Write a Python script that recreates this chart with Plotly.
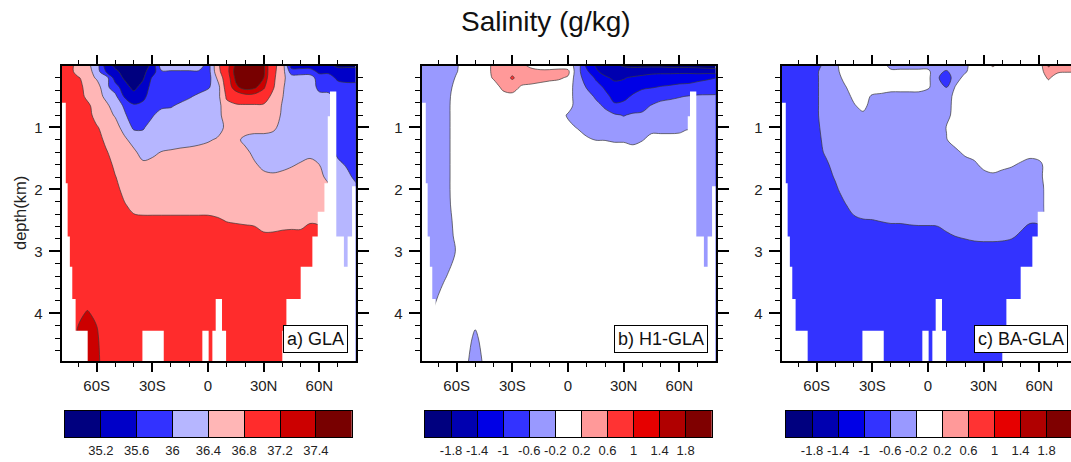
import plotly.graph_objects as go

# ---------------- data ----------------
lat = [-80, -75, -70, -65, -60, -55, -50, -45, -40, -35, -30, -25, -20, -15, -10, -5,
       0, 5, 10, 15, 20, 25, 30, 35, 40, 45, 50, 55, 60, 65, 70, 75, 80]
depth = [0.0, 0.1, 0.2, 0.35, 0.5, 0.65, 0.8, 1.0, 1.2, 1.4, 1.6, 1.8, 2.0, 2.25,
         2.5, 2.75, 3.0, 3.5, 4.0, 4.4, 4.8]

# a) GLA salinity (g/kg), rows = depth, cols = lat
sal_gla = [
    [37.0, 37.0, 36.6, 36.5, 36.2, 35.4, 35.1, 35.0, 35.0, 35.0, 35.3, 36.25, 36.25, 36.25, 36.25, 36.25, 35.8, 36.7, 37.1, 37.45, 37.7, 37.7, 37.45, 36.9, 36.65, 35.4, 35.4, 35.4, 35.4, 35.3, 35.1, 35.1, 35.1],
    [37.0, 37.0, 36.6, 36.6, 36.2, 35.6, 35.3, 35.05, 35.0, 35.1, 35.4, 35.95, 35.95, 35.95, 35.95, 35.95, 35.8, 36.65, 37.1, 37.5, 37.7, 37.7, 37.45, 36.9, 36.6, 35.8, 35.8, 35.8, 35.5, 35.5, 35.4, 35.4, 35.4],
    [37.0, 37.0, 36.85, 36.6, 36.35, 36.2, 35.4, 35.15, 35.0, 35.15, 35.65, 35.8, 35.8, 35.8, 35.8, 35.8, 35.8, 36.45, 37.05, 37.45, 37.7, 37.65, 37.4, 36.9, 36.5, 36.2, 36.2, 36.2, 35.8, 35.8, 35.5, 35.5, 35.5],
    [37.0, 37.0, 37.0, 36.6, 36.6, 36.1, 35.8, 35.35, 35.1, 35.35, 35.75, 35.7, 35.8, 35.8, 35.8, 35.8, 35.95, 36.2, 37.0, 37.35, 37.5, 37.45, 37.25, 36.85, 36.45, 36.2, 36.2, 36.2, 35.9, 35.85, 35.8, 35.7, 35.7],
    [37.0, 37.0, 37.0, 36.7, 36.6, 36.3, 36.1, 35.55, 35.35, 35.5, 35.8, 35.8, 35.8, 35.8, 35.95, 36.1, 36.2, 36.25, 36.85, 37.0, 37.1, 37.1, 37.0, 36.7, 36.42, 36.2, 36.2, 36.2, 36.1, 36.1, 35.8, 35.8, 35.8],
    [37.0, 37.0, 37.0, 36.9, 36.6, 36.5, 36.2, 35.95, 35.65, 35.7, 35.8, 35.9, 35.95, 36.1, 36.2, 36.2, 36.2, 36.2, 36.7, 36.75, 36.75, 36.75, 36.75, 36.6, 36.38, 36.2, 36.2, 36.2, 36.2, 36.2, 35.8, 35.8, 35.8],
    [37.0, 37.0, 37.0, 37.0, 36.6, 36.6, 36.35, 36.05, 35.8, 35.8, 35.95, 36.2, 36.2, 36.2, 36.2, 36.2, 36.2, 36.25, 36.6, 36.6, 36.6, 36.6, 36.6, 36.6, 36.35, 36.2, 36.2, 36.2, 36.2, 36.2, 35.8, 35.8, 35.8],
    [37.0, 37.0, 37.0, 37.0, 36.85, 36.6, 36.6, 36.2, 35.95, 35.95, 36.2, 36.2, 36.2, 36.2, 36.2, 36.2, 36.2, 36.2, 36.5, 36.6, 36.6, 36.6, 36.6, 36.5, 36.25, 36.2, 36.2, 36.2, 36.2, 36.2, 35.8, 35.8, 35.8],
    [37.0, 37.0, 37.0, 37.0, 37.0, 36.7, 36.6, 36.5, 36.2, 36.2, 36.2, 36.2, 36.2, 36.2, 36.2, 36.25, 36.35, 36.45, 36.55, 36.5, 36.3, 36.2, 36.2, 36.2, 36.2, 36.2, 36.2, 36.2, 36.2, 36.2, 35.8, 35.8, 35.8],
    [37.0, 37.0, 37.0, 37.0, 37.0, 36.85, 36.6, 36.6, 36.5, 36.2, 36.25, 36.42, 36.45, 36.5, 36.55, 36.6, 36.6, 36.6, 36.6, 36.6, 36.5, 36.3, 36.2, 36.2, 36.2, 36.2, 36.2, 36.2, 36.2, 36.2, 35.9, 35.8, 35.8],
    [37.0, 37.0, 37.0, 37.0, 37.0, 37.0, 36.7, 36.6, 36.6, 36.5, 36.6, 36.6, 36.6, 36.6, 36.6, 36.6, 36.6, 36.6, 36.6, 36.6, 36.6, 36.45, 36.3, 36.3, 36.3, 36.35, 36.45, 36.6, 36.4, 36.2, 36.1, 35.95, 35.8],
    [37.0, 37.0, 37.0, 37.0, 37.0, 37.0, 36.82, 36.6, 36.6, 36.6, 36.6, 36.6, 36.6, 36.6, 36.6, 36.6, 36.6, 36.6, 36.6, 36.6, 36.6, 36.6, 36.5, 36.45, 36.5, 36.6, 36.6, 36.6, 36.6, 36.2, 36.2, 36.1, 35.9],
    [37.0, 37.0, 37.0, 37.0, 37.0, 37.0, 37.0, 36.6, 36.6, 36.6, 36.6, 36.6, 36.6, 36.6, 36.6, 36.6, 36.6, 36.6, 36.6, 36.6, 36.6, 36.6, 36.6, 36.6, 36.6, 36.6, 36.6, 36.6, 36.6, 36.6, 36.2, 36.2, 36.1],
    [37.0, 37.0, 37.0, 37.0, 37.0, 37.0, 37.0, 36.85, 36.6, 36.6, 36.6, 36.6, 36.6, 36.6, 36.6, 36.6, 36.6, 36.6, 36.6, 36.6, 36.6, 36.6, 36.6, 36.6, 36.6, 36.6, 36.6, 36.6, 36.6, 36.6, 36.2, 36.2, 36.2],
    [37.0, 37.0, 37.0, 37.0, 37.0, 37.0, 37.0, 37.0, 36.95, 36.9, 36.9, 36.9, 36.9, 36.9, 36.9, 36.9, 36.9, 36.85, 36.78, 36.75, 36.72, 36.68, 36.65, 36.65, 36.66, 36.66, 36.66, 36.75, 36.7, 36.6, 36.2, 36.2, 36.2],
    [37.0, 37.0, 37.0, 37.0, 37.0, 37.0, 37.0, 37.0, 37.0, 37.0, 37.0, 37.0, 37.0, 37.0, 37.0, 37.0, 37.0, 37.0, 37.0, 37.0, 37.0, 37.0, 36.85, 36.85, 36.88, 36.9, 36.9, 37.0, 37.0, 36.6, 36.2, 36.2, 36.2],
    [37.0, 37.0, 37.0, 37.0, 37.0, 37.0, 37.0, 37.0, 37.0, 37.0, 37.0, 37.0, 37.0, 37.0, 37.0, 37.0, 37.0, 37.0, 37.0, 37.0, 37.0, 37.0, 37.0, 37.0, 37.0, 37.0, 37.0, 37.0, 37.0, 36.6, 36.2, 36.2, 36.2],
    [37.0, 37.0, 37.0, 37.0, 37.0, 37.0, 37.0, 37.0, 37.0, 37.0, 37.0, 37.0, 37.0, 37.0, 37.0, 37.0, 37.0, 37.0, 37.0, 37.0, 37.0, 37.0, 37.0, 37.0, 37.0, 37.0, 37.0, 37.0, 37.0, 36.6, 36.2, 36.2, 36.2],
    [37.0, 37.0, 37.15, 37.22, 37.15, 37.0, 37.0, 37.0, 37.0, 37.0, 37.0, 37.0, 37.0, 37.0, 37.0, 37.0, 37.0, 37.0, 37.0, 37.0, 37.0, 37.0, 37.0, 37.0, 37.0, 37.0, 37.0, 37.0, 37.0, 36.6, 36.2, 36.2, 36.2],
    [37.0, 37.0, 37.25, 37.3, 37.25, 37.0, 37.0, 37.0, 37.0, 37.0, 37.0, 37.0, 37.0, 37.0, 37.0, 37.0, 37.0, 37.0, 37.0, 37.0, 37.0, 37.0, 37.0, 37.0, 37.0, 37.0, 37.0, 37.0, 37.0, 36.6, 36.2, 36.2, 36.2],
    [37.0, 37.0, 37.25, 37.3, 37.3, 37.0, 37.0, 37.0, 37.0, 37.0, 37.0, 37.0, 37.0, 37.0, 37.0, 37.0, 37.0, 37.0, 37.0, 37.0, 37.0, 37.0, 37.0, 37.0, 37.0, 37.0, 37.0, 37.0, 37.0, 36.6, 36.2, 36.2, 36.2],
]

# b) H1-GLA salinity difference
dsal_h1 = [
    [-0.4, -0.4, -0.4, -0.4, -0.24, 0, 0, 0, 0.3, 0.4, 0.4, 0.3, 0.1, 0, 0, 0, 0, -0.35, -1.1, -1.42, -1.65, -1.7, -1.85, -1.9, -1.9, -1.9, -1.9, -1.95, -1.95, -1.95, -1.95, -2.0, -2.0],
    [-0.4, -0.4, -0.4, -0.4, -0.22, 0, 0, 0, 0.3, 0.4, 0.5, 0.45, 0.35, 0.3, 0.3, 0.35, 0.3, -0.45, -0.9, -1.35, -1.5, -1.6, -1.6, -1.6, -1.55, -1.5, -1.5, -1.5, -1.5, -1.5, -1.55, -1.55, -1.6],
    [-0.4, -0.4, -0.4, -0.4, -0.15, 0, 0, 0, 0.25, 0.4, 0.65, 0.4, 0.4, 0.35, 0.3, 0.25, 0.15, -0.45, -0.75, -1.05, -1.35, -1.45, -1.42, -1.35, -1.3, -1.25, -1.2, -1.2, -1.15, -1.15, -1.1, -1.05, -1.0],
    [-0.4, -0.4, -0.4, -0.35, -0.05, 0, 0, 0, 0, 0.3, 0.35, 0.15, 0.1, 0.05, 0, 0, 0, -0.4, -0.62, -0.85, -1.05, -1.3, -1.3, -1.15, -1.05, -1.02, -0.98, -0.95, -0.92, -0.9, -0.85, -0.82, -0.8],
    [-0.4, -0.4, -0.4, -0.3, 0, 0, 0, 0, 0, 0.05, 0.1, 0, 0, 0, 0, 0, 0, -0.4, -0.45, -0.65, -0.9, -1.1, -1.1, -0.95, -0.85, -0.8, -0.7, -0.65, -0.62, -0.58, -0.55, -0.55, -0.55],
    [-0.4, -0.4, -0.4, -0.28, 0, 0, 0, 0, 0, 0, 0, 0, 0, 0, 0, 0, 0, -0.4, -0.4, -0.5, -0.65, -0.95, -0.9, -0.8, -0.7, -0.58, -0.5, -0.5, -0.45, -0.45, -0.4, -0.4, -0.4],
    [-0.4, -0.4, -0.4, -0.28, 0, 0, 0, 0, 0, 0, 0, 0, 0, 0, 0, 0, -0.25, -0.4, -0.4, -0.4, -0.5, -0.55, -0.62, -0.55, -0.55, -0.45, -0.4, -0.4, -0.4, -0.4, -0.4, -0.4, -0.4],
    [-0.4, -0.4, -0.4, -0.28, 0, 0, 0, 0, 0, 0, 0, 0, 0, 0, 0, 0, -0.1, -0.22, -0.4, -0.4, -0.4, -0.4, -0.4, -0.4, -0.4, -0.3, -0.3, -0.3, -0.3, -0.25, -0.4, -0.4, -0.4],
    [-0.4, -0.4, -0.4, -0.28, 0, 0, 0, 0, 0, 0, 0, 0, 0, 0, 0, 0, 0, 0, -0.12, -0.21, -0.21, -0.25, -0.25, -0.3, -0.22, -0.1, -0.1, -0.1, -0.08, 0, -0.4, -0.4, -0.4],
    [-0.4, -0.4, -0.4, -0.28, 0, 0, 0, 0, 0, 0, 0, 0, 0, 0, 0, 0, 0, 0, 0, 0, 0, 0, 0, -0.05, 0, 0, 0, 0, 0, 0, -0.4, -0.4, -0.4],
    [-0.4, -0.4, -0.4, -0.28, 0, 0, 0, 0, 0, 0, 0, 0, 0, 0, 0, 0, 0, 0, 0, 0, 0, 0, 0, 0, 0, 0, 0, 0, 0, 0, -0.4, -0.4, -0.4],
    [-0.4, -0.4, -0.4, -0.28, 0, 0, 0, 0, 0, 0, 0, 0, 0, 0, 0, 0, 0, 0, 0, 0, 0, 0, 0, 0, 0, 0, 0, 0, 0, 0, -0.4, -0.4, -0.4],
    [-0.4, -0.4, -0.4, -0.28, 0, 0, 0, 0, 0, 0, 0, 0, 0, 0, 0, 0, 0, 0, 0, 0, 0, 0, 0, 0, 0, 0, 0, 0, 0, 0, -0.4, -0.4, -0.4],
    [-0.4, -0.4, -0.4, -0.3, 0, 0, 0, 0, 0, 0, 0, 0, 0, 0, 0, 0, 0, 0, 0, 0, 0, 0, 0, 0, 0, 0, 0, 0, 0, 0, -0.4, -0.4, -0.4],
    [-0.4, -0.4, -0.4, -0.4, 0, 0, 0, 0, 0, 0, 0, 0, 0, 0, 0, 0, 0, 0, 0, 0, 0, 0, 0, 0, 0, 0, 0, 0, 0, 0, -0.4, -0.4, -0.4],
    [-0.4, -0.4, -0.4, -0.45, -0.05, 0, 0, 0, 0, 0, 0, 0, 0, 0, 0, 0, 0, 0, 0, 0, 0, 0, 0, 0, 0, 0, 0, 0, 0, 0, -0.4, -0.4, -0.4],
    [-0.4, -0.4, -0.4, -0.5, -0.15, 0, 0, 0, 0, 0, 0, 0, 0, 0, 0, 0, 0, 0, 0, 0, 0, 0, 0, 0, 0, 0, 0, 0, 0, 0, -0.4, -0.4, -0.4],
    [-0.4, -0.4, -0.35, -0.1, 0, 0, 0, 0, 0, 0, 0, 0, 0, 0, 0, 0, 0, 0, 0, 0, 0, 0, 0, 0, 0, 0, 0, 0, 0, 0, -0.4, -0.4, -0.4],
    [-0.4, -0.3, 0, 0, 0, 0, 0, 0, 0, 0, 0, 0, 0, 0, 0, 0, 0, 0, 0, 0, 0, 0, 0, 0, 0, 0, 0, 0, 0, 0, -0.4, -0.4, -0.4],
    [0, 0, 0, 0, 0, 0, -0.3, 0, 0, 0, 0, 0, 0, 0, 0, 0, 0, 0, 0, 0, 0, 0, 0, 0, 0, 0, 0, 0, 0, 0, -0.4, -0.4, -0.4],
    [0, 0, 0, 0, 0, -0.1, -0.5, -0.1, 0, 0, 0, 0, 0, 0, 0, 0, 0, 0, 0, 0, 0, 0, 0, 0, 0, 0, 0, 0, 0, 0, -0.4, -0.4, -0.4],
]

# c) BA-GLA salinity difference
dsal_ba = [
    [-0.8, -0.8, -0.8, -0.8, -0.8, -0.4, -0.3, 0, 0, 0, 0, 0, -0.35, -0.35, -0.35, -0.35, -0.35, -0.4, -0.4, -0.4, -0.3, 0, 0, 0.25, 0, 0, 0, 0, 0, 0.65, 0.35, 0.3, 0.3],
    [-0.8, -0.8, -0.8, -0.8, -0.65, -0.4, -0.35, 0, 0, 0, 0, 0, -0.1, -0.1, -0.1, -0.1, -0.1, -0.5, -0.65, -0.4, -0.25, 0, 0, 0, 0, 0, 0, 0, 0, 0.45, 0.25, 0.22, 0.22],
    [-0.8, -0.8, -0.8, -0.8, -0.65, -0.4, -0.4, -0.1, 0, 0, 0, 0, 0, 0, 0, 0, -0.1, -0.55, -0.8, -0.4, -0.05, 0, 0, 0, 0, 0, 0, 0, 0, 0.25, 0, 0, 0],
    [-0.8, -0.8, -0.8, -0.8, -0.65, -0.4, -0.4, -0.25, 0, 0, 0, 0, 0, 0, 0, 0, -0.15, -0.4, -0.62, -0.15, 0, 0, 0, 0, 0, 0, 0, 0, 0, 0, 0, 0, 0],
    [-0.8, -0.8, -0.8, -0.8, -0.65, -0.4, -0.4, -0.4, -0.1, -0.05, -0.25, -0.3, -0.4, -0.4, -0.4, -0.4, -0.4, -0.4, -0.4, -0.05, 0, 0, 0, 0, 0, 0, 0, 0, 0, 0, 0, 0, 0],
    [-0.8, -0.8, -0.8, -0.8, -0.65, -0.4, -0.4, -0.4, -0.25, -0.05, -0.4, -0.4, -0.4, -0.4, -0.4, -0.4, -0.4, -0.4, -0.4, 0, 0, 0, 0, 0, 0, 0, 0, 0, 0, 0, 0, 0, 0],
    [-0.8, -0.8, -0.8, -0.8, -0.65, -0.4, -0.4, -0.4, -0.4, -0.3, -0.4, -0.4, -0.4, -0.4, -0.4, -0.4, -0.4, -0.4, -0.35, 0, 0, 0, 0, 0, 0, 0, 0, 0, 0, 0, 0, 0, 0],
    [-0.8, -0.8, -0.8, -0.8, -0.7, -0.4, -0.4, -0.4, -0.4, -0.4, -0.4, -0.4, -0.4, -0.4, -0.4, -0.4, -0.4, -0.4, -0.18, 0, 0, 0, 0, 0, 0, 0, 0, 0, 0, 0, 0, 0, 0],
    [-0.8, -0.8, -0.8, -0.8, -0.8, -0.4, -0.4, -0.4, -0.4, -0.4, -0.4, -0.4, -0.4, -0.4, -0.4, -0.4, -0.4, -0.4, -0.22, 0, 0, 0, 0, 0, 0, 0, 0, 0, 0, 0, 0, 0, 0],
    [-0.8, -0.8, -0.8, -0.8, -0.8, -0.52, -0.4, -0.4, -0.4, -0.4, -0.4, -0.4, -0.4, -0.4, -0.4, -0.4, -0.4, -0.4, -0.4, -0.3, -0.1, 0, 0, 0, 0, 0, 0, 0, 0, 0, 0, 0, 0],
    [-0.8, -0.8, -0.8, -0.8, -0.8, -0.7, -0.4, -0.4, -0.4, -0.4, -0.4, -0.4, -0.4, -0.4, -0.4, -0.4, -0.4, -0.4, -0.4, -0.4, -0.4, -0.3, -0.05, 0, -0.05, -0.15, -0.25, -0.4, -0.3, 0, 0, 0, 0],
    [-0.8, -0.8, -0.8, -0.8, -0.8, -0.8, -0.55, -0.4, -0.4, -0.4, -0.4, -0.4, -0.4, -0.4, -0.4, -0.4, -0.4, -0.4, -0.4, -0.4, -0.4, -0.4, -0.4, -0.3, -0.4, -0.4, -0.4, -0.4, -0.3, 0, 0, 0, 0],
    [-0.8, -0.8, -0.8, -0.8, -0.8, -0.8, -0.7, -0.4, -0.4, -0.4, -0.4, -0.4, -0.4, -0.4, -0.4, -0.4, -0.4, -0.4, -0.4, -0.4, -0.4, -0.4, -0.4, -0.4, -0.4, -0.4, -0.4, -0.4, -0.4, 0, 0, 0, 0],
    [-0.8, -0.8, -0.8, -0.8, -0.8, -0.8, -0.8, -0.65, -0.4, -0.4, -0.4, -0.4, -0.4, -0.4, -0.4, -0.4, -0.4, -0.4, -0.4, -0.4, -0.4, -0.4, -0.4, -0.4, -0.4, -0.4, -0.4, -0.4, -0.4, 0, 0, 0, 0],
    [-0.8, -0.8, -0.8, -0.8, -0.8, -0.8, -0.8, -0.8, -0.7, -0.62, -0.61, -0.58, -0.55, -0.55, -0.52, -0.5, -0.5, -0.48, -0.46, -0.45, -0.42, -0.42, -0.42, -0.42, -0.42, -0.42, -0.48, -0.55, -0.52, 0, 0, 0, 0],
    [-0.8, -0.8, -0.8, -0.8, -0.8, -0.8, -0.8, -0.8, -0.8, -0.8, -0.8, -0.8, -0.8, -0.8, -0.8, -0.8, -0.8, -0.8, -0.65, -0.59, -0.55, -0.5, -0.48, -0.48, -0.5, -0.55, -0.65, -0.8, -0.8, -0.3, 0, 0, 0],
    [-0.8, -0.8, -0.8, -0.8, -0.8, -0.8, -0.8, -0.8, -0.8, -0.8, -0.8, -0.8, -0.8, -0.8, -0.8, -0.8, -0.8, -0.8, -0.8, -0.8, -0.8, -0.8, -0.8, -0.8, -0.8, -0.8, -0.8, -0.8, -0.8, -0.8, 0, 0, 0],
    [-0.8, -0.8, -0.8, -0.8, -0.8, -0.8, -0.8, -0.8, -0.8, -0.8, -0.8, -0.8, -0.8, -0.8, -0.8, -0.8, -0.8, -0.8, -0.8, -0.8, -0.8, -0.8, -0.8, -0.8, -0.8, -0.8, -0.8, -0.8, -0.8, -0.8, 0, 0, 0],
    [-0.8, -0.8, -0.8, -0.8, -0.8, -0.8, -0.8, -0.8, -0.8, -0.8, -0.8, -0.8, -0.8, -0.8, -0.8, -0.8, -0.8, -0.8, -0.8, -0.8, -0.8, -0.8, -0.8, -0.8, -0.8, -0.8, -0.8, -0.8, -0.8, -0.8, 0, 0, 0],
    [-0.8, -0.8, -0.8, -0.8, -0.8, -0.8, -0.8, -0.8, -0.8, -0.8, -0.8, -0.8, -0.8, -0.8, -0.8, -0.8, -0.8, -0.8, -0.8, -0.8, -0.8, -0.8, -0.8, -0.8, -0.8, -0.8, -0.8, -0.8, -0.8, -0.8, 0, 0, 0],
    [-0.8, -0.8, -0.8, -0.8, -0.8, -0.8, -0.8, -0.8, -0.8, -0.8, -0.8, -0.8, -0.8, -0.8, -0.8, -0.8, -0.8, -0.8, -0.8, -0.8, -0.8, -0.8, -0.8, -0.8, -0.8, -0.8, -0.8, -0.8, -0.8, -0.8, 0, 0, 0],
]

# sea floor (land mask): lat column edges and floor depth (km)
mask_west = [-80.0, -77.0, -76.0, -74.8, -73.5, -71.7, -35.0, -2.7, 2.7, 4.5, 7.2, 40.4, 42.6, 50.3, 56.6, 59.5, 63.1, 64.9, 66.1, 68.8, 72.9, 75.6, 78.0]
mask_east = [-77.0, -76.0, -74.8, -73.5, -71.7, -65.2, -24.2, 0.0, 4.5, 7.2, 9.4, 42.6, 50.3, 56.6, 59.5, 63.1, 64.9, 66.1, 68.8, 72.9, 75.6, 78.0, 80.0]
mask_floor = [0.6, 1.9, 2.76, 3.25, 3.77, 4.28, 4.28, 4.28, 4.28, 3.77, 4.28, 4.28, 3.77, 3.25, 2.76, 2.36, 1.9, 0.82, 0.42, 2.76, 3.25, 2.76, 1.95]

gla_ticklabels = ['35.2', '35.6', '36', '36.4', '36.8', '37.2', '37.4']
gla_colors = ['#00007F', '#0000C8', '#3232FF', '#B6B6FF', '#FFB6B6', '#FF2C2C', '#CC0000', '#780000']
diff_ticklabels = ['-1.8', '-1.4', '-1', '-0.6', '-0.2', '0.2', '0.6', '1', '1.4', '1.8']
diff_colors = ['#00007F', '#0000B0', '#0000E6', '#3333FF', '#9999FF', '#FFFFFF',
               '#FF9999', '#FF3333', '#E60000', '#B00000', '#7F0000']

lat_ticks = [-60, -30, 0, 30, 60]
lat_ticklabels = ['60S', '30S', '0', '30N', '60N']
lat_minor = [-70, -50, -40, -20, -10, 10, 20, 40, 50, 70]
depth_ticks = [1, 2, 3, 4]
depth_ticklabels = ['1', '2', '3', '4']
depth_minor = [0.2, 0.4, 0.6, 0.8, 1.2, 1.4, 1.6, 1.8, 2.2, 2.4, 2.6, 2.8, 3.2, 3.4, 3.6, 3.8, 4.2, 4.4, 4.6]
panel_labels = ['a) GLA', 'b) H1-GLA', 'c) BA-GLA']

# ---------------- figure ----------------
W, H = 1071, 462
FONT = 'Liberation Sans, Arial, Helvetica, sans-serif'
LINE = dict(color='#3a3a3a', width=0.7, smoothing=1)


def px_x(p):
    return p / W


def px_y(p):
    return 1 - p / H


def stepped(colors):
    n = len(colors) - 1
    out = []
    for i, c in enumerate(colors):
        out.append([max(0.0, (i - 0.5) / n), c])
        out.append([min(1.0, (i + 0.5) / n), c])
    return out


fig = go.Figure()

# panel a
fig.add_trace(go.Contour(
    x=lat, y=depth, z=sal_gla, xaxis='x', yaxis='y', autocontour=False,
    contours=dict(start=35.2, end=37.2, size=0.4, coloring='fill', showlines=True),
    colorscale=stepped(gla_colors[:7]), line=LINE, showscale=False, hoverinfo='skip'))
fig.add_trace(go.Contour(
    x=lat, y=depth, z=sal_gla, xaxis='x', yaxis='y', autocontour=False,
    contours=dict(start=37.4, end=37.4, size=0.2, coloring='fill', showlines=True),
    colorscale=[[0, 'rgba(255,255,255,0)'], [0.5, 'rgba(255,255,255,0)'],
                [0.5, gla_colors[7]], [1, gla_colors[7]]],
    line=LINE, showscale=False, hoverinfo='skip'))
# panels b, c
for z, ax in [(dsal_h1, '2'), (dsal_ba, '3')]:
    fig.add_trace(go.Contour(
        x=lat, y=depth, z=z, xaxis='x' + ax, yaxis='y' + ax, autocontour=False,
        contours=dict(start=-1.8, end=1.8, size=0.4, coloring='fill', showlines=True),
        colorscale=stepped(diff_colors), line=LINE, showscale=False, hoverinfo='skip'))

# land mask (slight overlap between neighbouring columns avoids anti-alias seams)
OVERLAP = 0.35
centers = [(w + e) / 2 for w, e in zip(mask_west, mask_east)]
widths = [e - w + 2 * OVERLAP for w, e in zip(mask_west, mask_east)]
heights = [5.0 - f for f in mask_floor]
for ax in ['', '2', '3']:
    fig.add_trace(go.Bar(x=centers, y=heights, base=mask_floor, width=widths,
                         marker=dict(color='white', line=dict(width=0)),
                         xaxis='x' + ax, yaxis='y' + ax, hoverinfo='skip', showlegend=False))

# colorbars as heatmaps
cb_specs = [(gla_colors, '4'), (diff_colors, '5'), (diff_colors, '6')]
for cols, ax in cb_specs:
    n = len(cols)
    fig.add_trace(go.Heatmap(z=[list(range(n))], x=[i + 0.5 for i in range(n)], y=[0],
                             zmin=0, zmax=n - 1, colorscale=stepped(cols), showscale=False,
                             xaxis='x' + ax, yaxis='y' + ax, hoverinfo='skip'))

ydom = [px_y(361), px_y(65.5)]
tickfont = dict(family=FONT, size=15, color='#222')


def xmain(dom, rng, anchor):
    return dict(domain=dom, range=rng, anchor=anchor, tickmode='array', tickvals=lat_ticks,
                ticktext=lat_ticklabels, ticks='outside', ticklen=9, tickwidth=1.5, tickcolor='black',
                showline=True, linecolor='black', linewidth=2, mirror='ticks', showgrid=False,
                zeroline=False, layer='above traces', tickfont=tickfont, ticklabelstandoff=1,
                minor=dict(tickmode='array', tickvals=lat_minor, ticks='outside', ticklen=4,
                           tickwidth=1, tickcolor='black', showgrid=False))


def ymain(anchor, mirror):
    return dict(domain=ydom, range=[4.77, 0], anchor=anchor, tickmode='array', tickvals=depth_ticks,
                ticktext=depth_ticklabels, ticks='outside', ticklen=11, tickwidth=1.5, tickcolor='black',
                showline=True, linecolor='black', linewidth=2, mirror=mirror, showgrid=False,
                zeroline=False, layer='above traces', tickfont=tickfont, ticklabelstandoff=3,
                minor=dict(tickmode='array', tickvals=depth_minor, ticks='outside', ticklen=5,
                           tickwidth=1, tickcolor='black', showgrid=False))


cbfont = dict(family=FONT, size=13, color='#222')


def xcb(dom, n, labels, rng, anchor):
    return dict(domain=dom, range=rng, anchor=anchor, tickmode='array',
                tickvals=list(range(1, n)), ticktext=labels, ticks='inside', ticklen=27,
                tickwidth=1, tickcolor='black', showline=True, linecolor='black', linewidth=1,
                mirror=True, showgrid=False, zeroline=False, layer='above traces',
                tickfont=cbfont, ticklabelstandoff=1)


def ycb(anchor, mirror=True):
    return dict(domain=[px_y(437.3), px_y(410.7)], range=[-0.5, 0.5], anchor=anchor,
                showticklabels=False, ticks='', showline=True, linecolor='black', linewidth=1,
                mirror=mirror, showgrid=False, zeroline=False)


fig.update_layout(
    width=W, height=H, margin=dict(l=0, r=0, t=0, b=0, autoexpand=False),
    paper_bgcolor='white', plot_bgcolor='white', showlegend=False,
    xaxis=xmain([px_x(61.7), px_x(355.5)], [-78.85, 79.5], 'y'),
    yaxis=ymain('x', 'ticks'),
    xaxis2=xmain([px_x(421.7), px_x(715.5)], [-78.85, 79.5], 'y2'),
    yaxis2=ymain('x2', 'ticks'),
    xaxis3=xmain([px_x(781.7), 1.0], [-78.85, 77.08], 'y3'),
    yaxis3=ymain('x3', False),
    xaxis4=xcb([px_x(65), px_x(351.7)], 8, gla_ticklabels, [0, 8], 'y4'),
    yaxis4=ycb('x4'),
    xaxis5=xcb([px_x(425), px_x(711.7)], 11, diff_ticklabels, [0, 11], 'y5'),
    yaxis5=ycb('x5'),
    xaxis6=xcb([px_x(786), 1.0], 11, diff_ticklabels, [0, 10.936], 'y6'),
    yaxis6=ycb('x6', False),
)

annos = [
    dict(text='Salinity (g/kg)', x=px_x(545.6), y=px_y(21.7), xref='paper', yref='paper',
         xanchor='center', yanchor='middle', showarrow=False,
         font=dict(family=FONT, size=28, color='#111')),
    dict(text='depth(km)', x=px_x(20), y=px_y(213), xref='paper', yref='paper', textangle=-90,
         xanchor='center', yanchor='middle', showarrow=False,
         font=dict(family=FONT, size=16.5, color='#222')),
]
for lbl, right in zip(panel_labels, [348.3, 708.3, 1068.3]):
    annos.append(dict(text=lbl, x=px_x(right), y=px_y(353.3), xref='paper', yref='paper',
                      xanchor='right', yanchor='bottom', showarrow=False,
                      font=dict(family=FONT, size=18, color='#111'),
                      bgcolor='white', bordercolor='black', borderwidth=1, borderpad=3))
fig.update_layout(annotations=annos)

fig.write_html('out.html', config={'displayModeBar': False},
               post_script="document.body.style.margin='0px';document.body.style.overflow='hidden';")
